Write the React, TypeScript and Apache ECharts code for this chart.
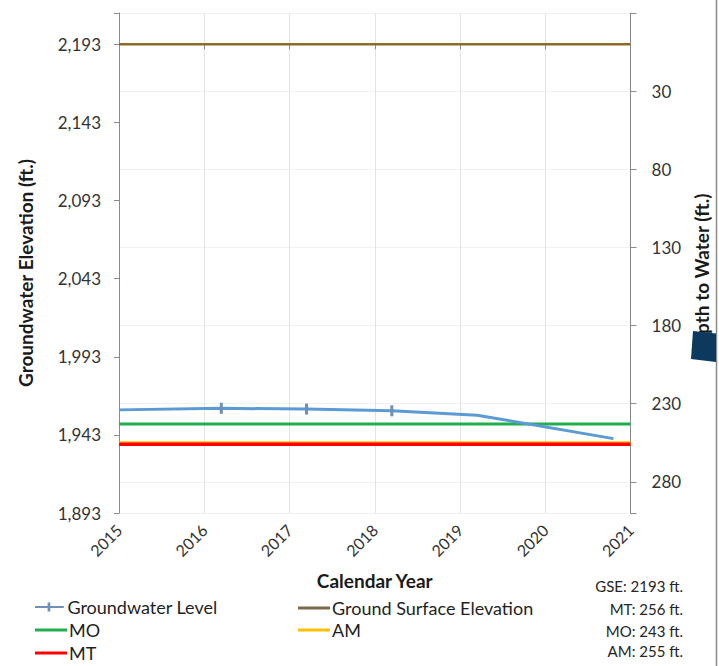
import React, { useEffect, useRef } from "react";
import * as echarts from "echarts";

// Well hydrograph: groundwater elevation (left) and depth to water (right)
const years = [2015, 2016, 2017, 2018, 2019, 2020, 2021];

// Measured groundwater elevations (decimal year, ft.)
const levelDates = [2015.0, 2016.2, 2017.2, 2018.2, 2019.2, 2020.8];
const levelElev = [1959.0, 1960.0, 1959.5, 1958.4, 1955.6, 1940.6];
const markedDates = [2016.2, 2017.2, 2018.2];

// Reference thresholds
const GSE = 2193; // ground surface elevation, ft.
const MT_DEPTH = 256; // minimum threshold, depth ft.
const MO_DEPTH = 243; // measurable objective, depth ft.
const AM_DEPTH = 255; // action margin, depth ft.

const elevTicks = [1893, 1943, 1993, 2043, 2093, 2143, 2193];
const depthTicks = [30, 80, 130, 180, 230, 280];

const FONT = "Lato";

function flatLine(value: number) {
  return [
    [years[0], value],
    [years[years.length - 1], value],
  ];
}

export default function App() {
  const ref = useRef<HTMLDivElement>(null);

  useEffect(() => {
    if (!ref.current) return;
    const chart = echarts.init(ref.current, null, { renderer: "svg" });

    const levelData = levelDates.map((d, i) => {
      const marked = markedDates.includes(d);
      return {
        value: [d, levelElev[i]],
        symbol: marked ? "rect" : "none",
        symbolSize: marked ? [3, 11] : 0,
      };
    });

    const legendText = { fontFamily: FONT, fontSize: 18, color: "#1f1f1f" };
    const mkLegend = (name: string, left: number, top: number, icon?: string) => ({
      data: [name],
      left,
      top,
      icon: icon || "rect",
      itemWidth: 32,
      itemHeight: icon ? 9 : 3,
      itemGap: 0,
      textStyle: { ...legendText, padding: [0, 0, 0, -3] },
      selectedMode: false,
    });

    const notes = [
      `GSE: ${GSE} ft.`,
      `MT: ${MT_DEPTH} ft.`,
      `MO: ${MO_DEPTH} ft.`,
      `AM: ${AM_DEPTH} ft.`,
    ];
    const noteY = [587, 610, 632, 652];

    const titleStyle = { fontFamily: FONT, fontSize: 19, fontWeight: "bold", color: "#1a1a1a" };

    chart.setOption({
      animation: false,
      backgroundColor: "#ffffff",
      grid: { left: 119, right: 88, top: 13, bottom: 153, containLabel: false },
      xAxis: {
        type: "value",
        min: years[0],
        max: years[years.length - 1],
        interval: 1,
        name: "Calendar Year",
        nameLocation: "middle",
        nameGap: 58,
        nameTextStyle: titleStyle,
        axisLine: { lineStyle: { color: "#8a8a8a", width: 1 } },
        axisTick: { show: true, length: 5, lineStyle: { color: "#8a8a8a" } },
        axisLabel: {
          rotate: 45,
          margin: 14,
          fontFamily: FONT,
          fontSize: 16,
          color: "#333333",
          formatter: (v: number) => String(v),
        },
        splitLine: { show: true, lineStyle: { color: "#e3e3e3", width: 1 } },
      },
      yAxis: [
        {
          type: "value",
          position: "left",
          min: 1893,
          max: GSE + 20,
          interval: 50,
          name: "Groundwater Elevation (ft.)",
          nameLocation: "middle",
          nameRotate: 90,
          nameGap: 84,
          nameTextStyle: { ...titleStyle, padding: [0, 0, 0, -20] },
          axisLine: { show: true, lineStyle: { color: "#8a8a8a", width: 1 } },
          axisTick: { show: true, length: 5, lineStyle: { color: "#8a8a8a" } },
          axisLabel: {
            fontFamily: FONT,
            fontSize: 17,
            color: "#333333",
            margin: 18,
            formatter: (v: number) =>
              elevTicks.includes(Math.round(v)) ? Math.round(v).toLocaleString("en-US") : "",
          },
          splitLine: { show: false },
        },
        {
          type: "value",
          position: "right",
          inverse: true,
          min: -20,
          max: 300,
          interval: 50,
          name: "Depth to Water (ft.)",
          nameLocation: "middle",
          nameRotate: 90,
          nameGap: 57,
          nameTextStyle: { ...titleStyle, padding: [0, 0, 0, -26] },
          axisLine: { show: true, lineStyle: { color: "#8a8a8a", width: 1 } },
          axisTick: { show: true, length: 6, lineStyle: { color: "#8a8a8a" } },
          axisLabel: {
            fontFamily: FONT,
            fontSize: 17,
            color: "#333333",
            margin: 21,
            formatter: (v: number) => (depthTicks.includes(Math.round(v)) ? String(Math.round(v)) : ""),
          },
          splitLine: { show: true, lineStyle: { color: "#f1f1f1", width: 1 } },
        },
      ],
      legend: [
        mkLegend("Groundwater Level", 30, 593, "path://M0,4H32V6H0Z M14,0H17V10H14Z"),
        mkLegend("Ground Surface Elevation", 293, 594),
        mkLegend("MO", 30, 616),
        mkLegend("AM", 293, 616),
        mkLegend("MT", 30, 639),
      ],
      series: [
        {
          name: "Ground Surface Elevation",
          type: "line",
          data: flatLine(GSE),
          symbol: "none",
          lineStyle: { color: "#8c6b2a", width: 2.5 },
          itemStyle: { color: "#7a6a4a" },
          z: 2,
        },
        {
          name: "AM",
          type: "line",
          data: flatLine(GSE - AM_DEPTH),
          symbol: "none",
          lineStyle: { color: "#ffc000", width: 3 },
          itemStyle: { color: "#ffc000" },
          z: 2,
        },
        {
          name: "MT",
          type: "line",
          data: flatLine(GSE - MT_DEPTH),
          symbol: "none",
          lineStyle: { color: "#ff0000", width: 3.5 },
          itemStyle: { color: "#ff0000" },
          z: 3,
        },
        {
          name: "MO",
          type: "line",
          data: flatLine(GSE - MO_DEPTH),
          symbol: "none",
          lineStyle: { color: "#1fae4b", width: 3 },
          itemStyle: { color: "#1fae4b" },
          z: 3,
        },
        {
          name: "Groundwater Level",
          type: "line",
          data: levelData,
          showAllSymbol: true,
          lineStyle: { color: "#5b9bd5", width: 3 },
          itemStyle: { color: "#6e8fb8" },
          z: 4,
        },
      ],
      graphic: [
        ...notes.map((t, i) => ({
          type: "text",
          right: 36,
          top: noteY[i] - 9,
          style: { text: t, fontFamily: FONT, fontSize: 15, fill: "#262626" },
        })),
        {
          type: "line",
          shape: { x1: 716.5, y1: 0, x2: 716.5, y2: 666 },
          style: { stroke: "#8c8c8c", lineWidth: 1.5 },
          z: 100,
        },
        {
          type: "polygon",
          shape: { points: [[693, 331], [716, 333.5], [716, 362], [691, 359]] },
          style: { fill: "#0c3a5e" },
          z: 100,
        },
      ],
    });

    return () => chart.dispose();
  }, []);

  return <div ref={ref} style={{ width: 719, height: 666, position: "absolute", left: 0, top: 0 }} />;
}
